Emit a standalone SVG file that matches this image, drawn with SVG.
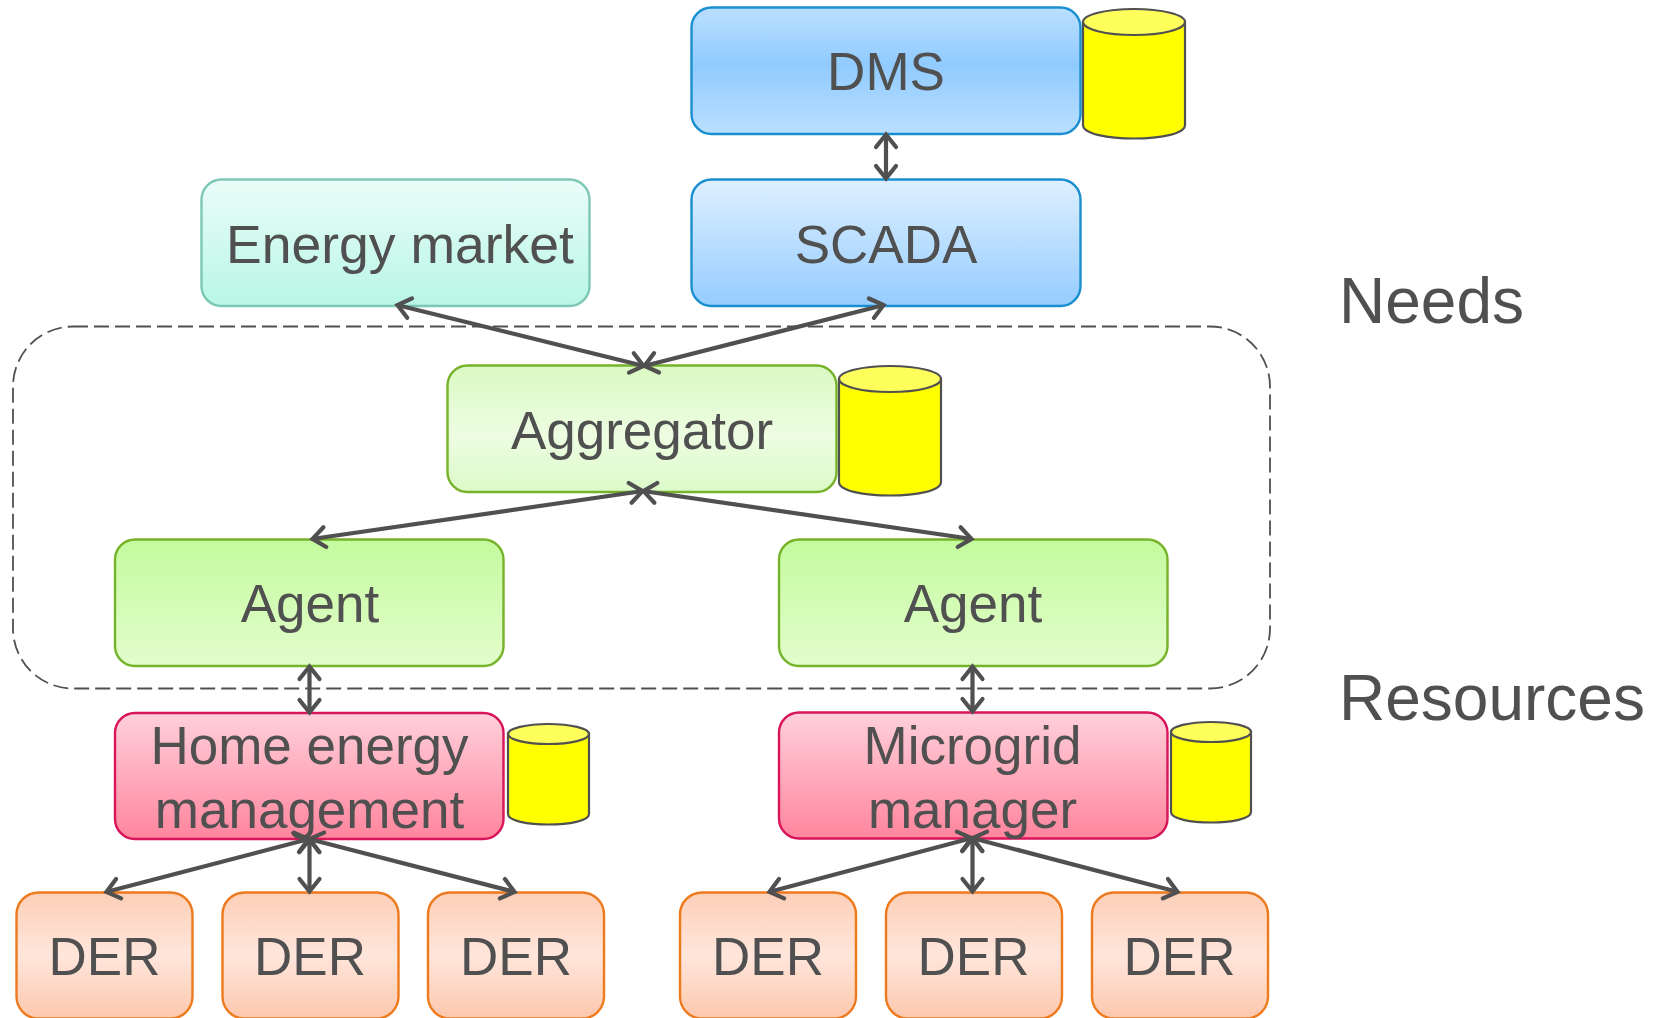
<svg xmlns="http://www.w3.org/2000/svg" width="1665" height="1018" viewBox="0 0 1665 1018">
<style>
text{font-family:"Liberation Sans",Arial,sans-serif;font-size:53px;fill:#505050;text-anchor:middle}
.big{font-size:64px;text-anchor:start}
.box{stroke-width:2.4}
.c{stroke:#505050;stroke-width:4.2;fill:none;marker-start:url(#a);marker-end:url(#a)}
.cyl{fill:#ffff00;stroke:#505050;stroke-width:2.2}
.top{fill:#ffff5c;stroke:#505050;stroke-width:2.2}
</style>
<defs>
<marker id="a" markerUnits="userSpaceOnUse" markerWidth="30" markerHeight="30" refX="17" refY="15" orient="auto-start-reverse" viewBox="0 0 30 30"><path d="M4,5 L16.500,15 L4,25" fill="none" stroke="#505050" stroke-width="4.200" stroke-linecap="round"/></marker>
<linearGradient id="gDms" x2="0" y2="1"><stop offset="0" stop-color="#bbdfff"/><stop offset=".45" stop-color="#90cbff"/><stop offset="1" stop-color="#bbdfff"/></linearGradient>
<linearGradient id="gSc" x2="0" y2="1"><stop offset="0" stop-color="#def0ff"/><stop offset="1" stop-color="#95ccff"/></linearGradient>
<linearGradient id="gEn" x2="0" y2="1"><stop offset="0" stop-color="#ebfdf8"/><stop offset="1" stop-color="#b8f6e6"/></linearGradient>
<linearGradient id="gAg" x2="0" y2="1"><stop offset="0" stop-color="#daf9c2"/><stop offset=".55" stop-color="#edfde2"/><stop offset="1" stop-color="#dcfac8"/></linearGradient>
<linearGradient id="gAt" x2="0" y2="1"><stop offset="0" stop-color="#c4fb9e"/><stop offset="1" stop-color="#e2fdcc"/></linearGradient>
<linearGradient id="gH" x2="0" y2="1"><stop offset="0" stop-color="#ffd0da"/><stop offset="1" stop-color="#ff859e"/></linearGradient>
<linearGradient id="gD" x2="0" y2="1"><stop offset="0" stop-color="#fdcfb7"/><stop offset=".5" stop-color="#ffe6db"/><stop offset="1" stop-color="#fdc8ad"/></linearGradient>
</defs>
<g id="boundary"><rect x="13" y="326.500" width="1257" height="362" rx="60" fill="none" stroke="#505050" stroke-width="1.800" stroke-dasharray="15 6"/></g>
<g id="dms"><rect class="box" x="691.500" y="7.500" width="389" height="126.500" rx="20" fill="url(#gDms)" stroke="#1a8fd0"/><text x="886" y="90">DMS</text></g>
<g id="dms-db"><path class="cyl" d="M1083,22 V125 C1083,143 1185,143 1185,125 V22 Z"/><ellipse class="top" cx="1134" cy="22" rx="51" ry="13"/></g>
<g id="scada"><rect class="box" x="691.500" y="179.500" width="389" height="126.500" rx="20" fill="url(#gSc)" stroke="#1a8fd0"/><text x="886" y="262.500">SCADA</text></g>
<g id="market"><rect class="box" x="201.500" y="179.500" width="388" height="126.500" rx="20" fill="url(#gEn)" stroke="#7cc8b4"/><text x="400" y="262.500" style="font-size:53.500px">Energy market</text></g>
<g id="aggregator"><rect class="box" x="447.500" y="365.500" width="389" height="126.500" rx="20" fill="url(#gAg)" stroke="#76b32a"/><text x="642" y="448.500">Aggregator</text></g>
<g id="agg-db"><path class="cyl" d="M839,379 V482 C839,500 941,500 941,482 V379 Z"/><ellipse class="top" cx="890" cy="379" rx="51" ry="13"/></g>
<g id="agent1"><rect class="box" x="115" y="539.500" width="388.500" height="126.500" rx="20" fill="url(#gAt)" stroke="#76b32a"/><text x="310" y="622">Agent</text></g>
<g id="agent2"><rect class="box" x="779" y="539.500" width="388.500" height="126.500" rx="20" fill="url(#gAt)" stroke="#76b32a"/><text x="973" y="622">Agent</text></g>
<g id="home"><rect class="box" x="115" y="713" width="388.500" height="126" rx="20" fill="url(#gH)" stroke="#d8145a"/><text x="309.500" y="763.500">Home energy</text><text x="309.500" y="827.500">management</text></g>
<g id="home-db"><path class="cyl" d="M508,734 V814 C508,828 589,828 589,814 V734 Z"/><ellipse class="top" cx="548.500" cy="734" rx="40.500" ry="10"/></g>
<g id="micro"><rect class="box" x="779" y="712.500" width="388.500" height="126" rx="20" fill="url(#gH)" stroke="#d8145a"/><text x="972.500" y="763.500">Microgrid</text><text x="972.500" y="827.500">manager</text></g>
<g id="micro-db"><path class="cyl" d="M1171,732 V812 C1171,826 1251,826 1251,812 V732 Z"/><ellipse class="top" cx="1211" cy="732" rx="40" ry="10"/></g>
<g id="der1"><rect class="box" x="16.500" y="892.500" width="176" height="126" rx="22" fill="url(#gD)" stroke="#ee7a1e"/><text x="104.500" y="975">DER</text></g>
<g id="der2"><rect class="box" x="222.500" y="892.500" width="176" height="126" rx="22" fill="url(#gD)" stroke="#ee7a1e"/><text x="310" y="975">DER</text></g>
<g id="der3"><rect class="box" x="428" y="892.500" width="176" height="126" rx="22" fill="url(#gD)" stroke="#ee7a1e"/><text x="516" y="975">DER</text></g>
<g id="der4"><rect class="box" x="680" y="892.500" width="176" height="126" rx="22" fill="url(#gD)" stroke="#ee7a1e"/><text x="768" y="975">DER</text></g>
<g id="der5"><rect class="box" x="886" y="892.500" width="176" height="126" rx="22" fill="url(#gD)" stroke="#ee7a1e"/><text x="973.500" y="975">DER</text></g>
<g id="der6"><rect class="box" x="1092" y="892.500" width="176" height="126" rx="22" fill="url(#gD)" stroke="#ee7a1e"/><text x="1179.500" y="975">DER</text></g>
<g id="connectors">
<line class="c" x1="886" y1="134" x2="886" y2="179"/>
<line class="c" x1="397" y1="305" x2="644" y2="366"/>
<line class="c" x1="884" y1="305" x2="644" y2="366"/>
<line class="c" x1="643" y1="491" x2="312" y2="539"/>
<line class="c" x1="643" y1="491" x2="972" y2="539"/>
<line class="c" x1="309.500" y1="666" x2="309.500" y2="713"/>
<line class="c" x1="972.500" y1="666" x2="972.500" y2="712"/>
<line class="c" x1="309" y1="839" x2="106" y2="892"/>
<line class="c" x1="309.500" y1="839" x2="309.500" y2="892"/>
<line class="c" x1="309" y1="839" x2="515" y2="892"/>
<line class="c" x1="972" y1="838" x2="769" y2="892"/>
<line class="c" x1="972.500" y1="838" x2="972.500" y2="892"/>
<line class="c" x1="972" y1="838" x2="1178" y2="892"/>
</g>
<g id="labels"><text class="big" x="1339" y="323">Needs</text><text class="big" x="1339" y="720">Resources</text></g>
</svg>
